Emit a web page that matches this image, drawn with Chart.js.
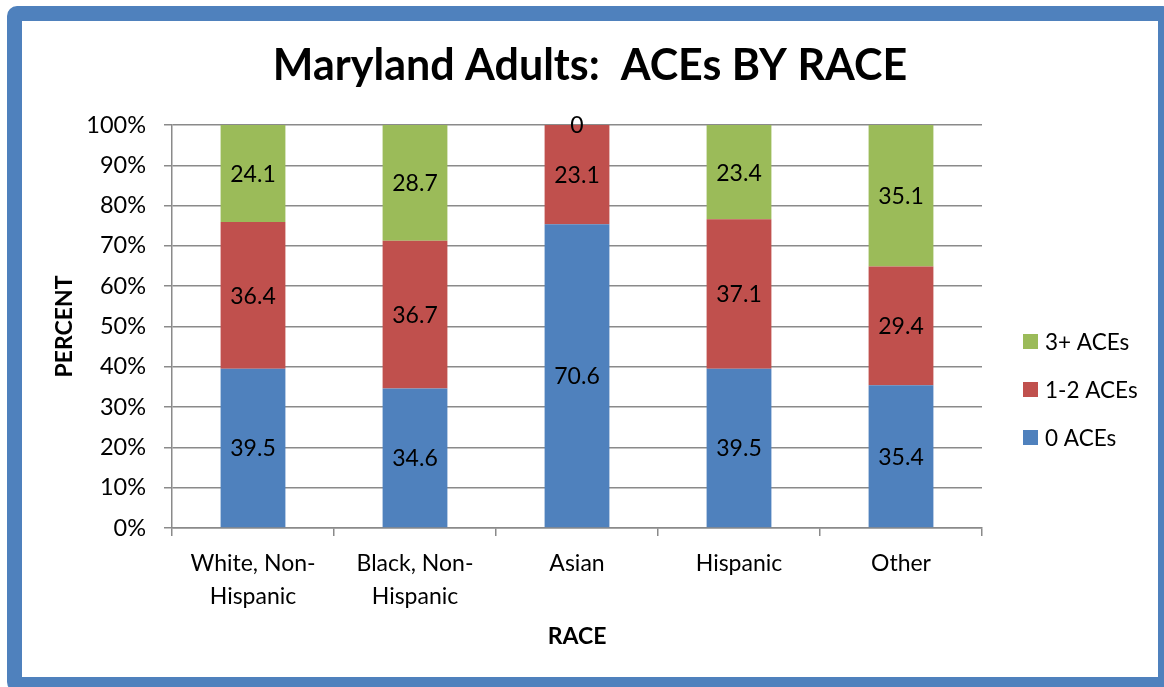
<!DOCTYPE html>
<html>
<head>
<meta charset="utf-8">
<script src="https://cdn.jsdelivr.net/npm/chart.js@4"></script>
<style>
  html, body { margin: 0; padding: 0; background: #fff; overflow: hidden; }
  #wrap { position: relative; width: 1164px; height: 687px; overflow: hidden; }
  #frame { position: absolute; left: 7px; top: 6px; width: 1166px; height: 686px; box-sizing: border-box;
           border: 15px solid #4F81BD; border-radius: 10px; pointer-events: none; }
  canvas { position: absolute; left: 0; top: 0; }
</style>
</head>
<body>
<div id="wrap">
  <canvas id="c" width="1164" height="687"></canvas>
  <div id="frame"></div>
</div>
<script>
const chartTitle = 'Maryland Adults:  ACEs BY RACE';
const categories = [['White, Non-', 'Hispanic'], ['Black, Non-', 'Hispanic'], 'Asian', 'Hispanic', 'Other'];
const seriesNames = ['0 ACEs', '1-2 ACEs', '3+ ACEs'];
const aces0 = [39.5, 34.6, 70.6, 39.5, 35.4];
const aces12 = [36.4, 36.7, 23.1, 37.1, 29.4];
const aces3plus = [24.1, 28.7, 0, 23.4, 35.1];
const yTicks = [0, 10, 20, 30, 40, 50, 60, 70, 80, 90, 100];
const colors = ['#4F81BD', '#C0504D', '#9BBB59'];

const FONT = 'Lato';
const raw = [aces0, aces12, aces3plus];
const totals = categories.map((_, i) => raw.reduce((s, arr) => s + arr[i], 0));
const pct = raw.map(arr => arr.map((v, i) => v / totals[i] * 100));

const labelPlugin = {
  id: 'extras',
  afterDatasetsDraw(chart) {
    const ctx = chart.ctx;
    ctx.save();
    ctx.fillStyle = '#000';
    ctx.font = '23px ' + FONT;
    ctx.textAlign = 'center';
    ctx.textBaseline = 'middle';
    chart.data.datasets.forEach((ds, di) => {
      const meta = chart.getDatasetMeta(di);
      meta.data.forEach((bar, i) => {
        const yc = (bar.y + bar.base) / 2;
        ctx.fillText(String(raw[di][i]), bar.x, yc + 1);
      });
    });
    ctx.restore();
  },
  afterDraw(chart) {
    const ctx = chart.ctx;
    ctx.save();
    ctx.fillStyle = '#000';
    ctx.font = 'bold 43px ' + FONT;
    ctx.textAlign = 'center';
    ctx.textBaseline = 'middle';
    ctx.fillText(chartTitle, 590, 66);
    ctx.font = '22.5px ' + FONT;
    ctx.textAlign = 'left';
    const ys = [342, 390, 438];
    const order = [2, 1, 0];
    order.forEach((di, k) => {
      const ds = chart.data.datasets[di];
      ctx.fillStyle = ds.backgroundColor;
      ctx.fillRect(1023, ys[k] - 8, 15, 15);
      ctx.fillStyle = '#000';
      ctx.fillText(ds.label, 1045, ys[k] + 1);
    });
    ctx.restore();
  }
};

new Chart(document.getElementById('c'), {
  type: 'bar',
  data: {
    labels: categories,
    datasets: seriesNames.map((n, i) => ({
      label: n,
      data: pct[i],
      backgroundColor: colors[i],
      borderWidth: 0,
      categoryPercentage: 0.4,
      barPercentage: 1.0
    }))
  },
  options: {
    responsive: false,
    animation: false,
    layout: { padding: { left: 30, top: 125, right: 182, bottom: 30 } },
    plugins: { legend: { display: false }, title: { display: false }, tooltip: { enabled: false } },
    scales: {
      x: {
        stacked: true,
        grid: { drawOnChartArea: false, drawTicks: true, tickLength: 8, offset: true, color: '#8a8a8a', lineWidth: 1.5 },
        border: { color: '#8a8a8a', width: 1.5 },
        ticks: { color: '#000', font: { family: FONT, size: 23, lineHeight: 1.44 }, padding: 11, maxRotation: 0, autoSkip: false },
        title: { display: true, text: 'RACE', color: '#000', font: { family: FONT, size: 23, weight: 'bold' }, padding: { top: 0, bottom: 7 } },
        afterFit(scale) { scale.height = 129; }
      },
      y: {
        stacked: true,
        min: 0, max: 100,
        afterBuildTicks(scale) { scale.ticks = yTicks.map(v => ({ value: v })); },
        grid: { color: '#8a8a8a', lineWidth: 1.5, tickLength: 8 },
        border: { color: '#8a8a8a', width: 1.5 },
        ticks: { color: '#000', font: { family: FONT, size: 23.5 }, padding: 18, callback: v => v + '%' },
        title: { display: true, text: 'PERCENT', color: '#000', font: { family: FONT, size: 23, weight: 'bold' }, padding: { top: 21, bottom: 0 } },
        afterFit(scale) { scale.width = 142; }
      }
    }
  },
  plugins: [labelPlugin]
});
</script>
</body>
</html>
